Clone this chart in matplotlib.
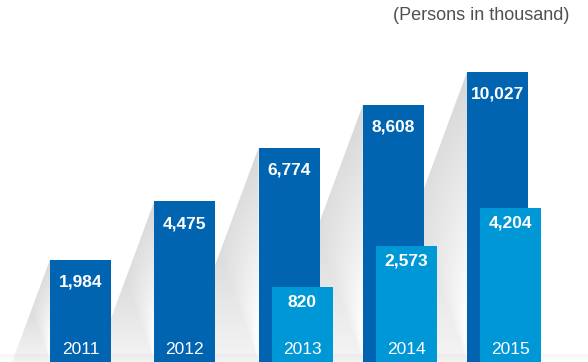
import numpy as np
import matplotlib
matplotlib.use('Agg')
import matplotlib.pyplot as plt
from matplotlib.patches import Polygon

plt.rcParams['font.family'] = ['Liberation Sans', 'DejaVu Sans']

# ── Data ─────────────────────────────────────────────────────────────────────
YEARS      = ['2011', '2012', '2013', '2014', '2015']
TOTAL      = [1984, 4475, 6774, 8608, 10027]
NEW_YEARS  = ['2013', '2014', '2015']
NEW_VALUES = [820, 2573, 4204]
UNIT_LABEL = '(Persons in thousand)'

DARK  = '#0064b1'
LIGHT = '#0097d7'

XLIM = (-0.772, 4.866)
YLIM = (-2400, 13100)
BAR_W = 0.585
FRONT_SHIFT = 0.125
SLOPE = 0.37        # shadow: horizontal px per vertical px

fig = plt.figure(figsize=(5.88, 3.62), dpi=100)
ax = fig.add_axes([0, 0, 1, 1])
ax.set_xlim(*XLIM); ax.set_ylim(*YLIM)
ax.axis('off')

x_dark = np.arange(len(YEARS))
x_new = np.array([YEARS.index(y) for y in NEW_YEARS]) + FRONT_SHIFT

# pixel scale of data units (used for the slanted shadows)
px_x = 588 / (XLIM[1] - XLIM[0])
px_y = 362 / (YLIM[1] - YLIM[0])

# ── gradient shadows behind each dark bar ────────────────────────────────────
for xc, v in zip(x_dark, TOTAL):
    xl = xc - BAR_W / 2
    h_px = (v - YLIM[0]) * px_y
    dx = SLOPE * h_px / px_x
    poly = Polygon([(xl, v), (xl - dx, YLIM[0]), (xl, YLIM[0])],
                   closed=True, facecolor='none', edgecolor='none',
                   transform=ax.transData)
    ax.add_patch(poly)
    ny, nx = 120, 80
    fy = np.linspace(0, 1, ny)[:, None]          # 0 bottom, 1 top
    fx = np.linspace(0, 1, nx)[None, :]          # 0 left, 1 right
    left_edge = 1 - fy                            # slanted edge position
    rel = np.clip((fx - left_edge) / np.maximum(1 - left_edge, 1e-3), 0, 1)
    t = np.clip(0.35 * rel + 0.85 * (1 - fy), 0, 1)
    g = 0.73 + 0.26 * t ** 0.8
    img = np.dstack([g, g, g])
    im = ax.imshow(img, extent=[xl - dx, xl, YLIM[0], v], origin='lower',
                   aspect='auto', interpolation='bilinear', zorder=1)
    im.set_clip_path(poly)

# faint floor shadow
floor_h = 8 / px_y
fl = np.linspace(0.0, 0.07, 20)[::-1][:, None] * np.ones((1, 2))
ax.imshow(np.dstack([np.full_like(fl, 0.5)] * 3 + [fl]),
          extent=[XLIM[0], XLIM[1], YLIM[0], YLIM[0] + floor_h],
          origin='upper', aspect='auto', zorder=1.5)
ax.set_xlim(*XLIM); ax.set_ylim(*YLIM)

# ── bars ─────────────────────────────────────────────────────────────────────
ax.bar(x_dark, np.array(TOTAL) - YLIM[0], bottom=YLIM[0], width=BAR_W,
       color=DARK, zorder=3)
ax.bar(x_new, np.array(NEW_VALUES) - YLIM[0], bottom=YLIM[0], width=BAR_W,
       color=LIGHT, zorder=4)

# ── labels ───────────────────────────────────────────────────────────────────
for xc, v in zip(x_dark, TOTAL):
    ax.annotate(f'{v:,}', (xc, v), xytext=(0, -16), textcoords='offset points',
                ha='center', va='center', color='white', fontsize=12.5,
                fontweight='bold', zorder=5)
for xc, v in zip(x_new, NEW_VALUES):
    ax.annotate(f'{v:,}', (xc, v), xytext=(0, -11), textcoords='offset points',
                ha='center', va='center', color='white', fontsize=12.5,
                fontweight='bold', zorder=5)

for i, year in enumerate(YEARS):
    xc = x_new[NEW_YEARS.index(year)] if year in NEW_YEARS else x_dark[i]
    ax.annotate(year, (xc, YLIM[0]), xytext=(0, 9), textcoords='offset points',
                ha='center', va='center', color='white', fontsize=12.5, zorder=5)

fig.text(0.969, 0.956, UNIT_LABEL, ha='right', va='center',
         color='#4f5052', fontsize=13)

fig.savefig('out.png', dpi=100, facecolor='white')
